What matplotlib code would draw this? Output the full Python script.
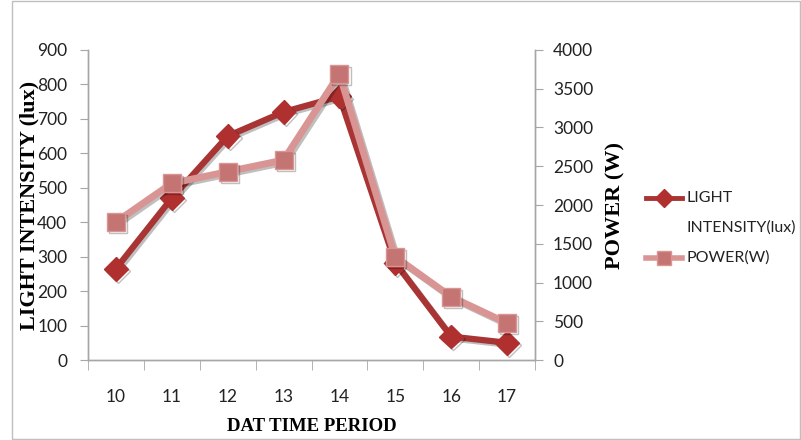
import matplotlib.pyplot as plt
import matplotlib.patheffects as pe
from matplotlib.lines import Line2D
import numpy as np

periods = ['10', '11', '12', '13', '14', '15', '16', '17']
light = [265, 470, 650, 720, 765, 282, 68, 50]
power = [1780, 2280, 2430, 2580, 3690, 1330, 815, 475]

light_col = '#A83434'
power_col = '#D99594'
power_mk = '#C47473'
axis_col = '#A6A6A6'
tick_fam = ['Lato', 'DejaVu Sans']

fig = plt.figure(figsize=(8.01, 4.40), dpi=100)
ax = fig.add_axes([88 / 801, 1 - 360 / 440, (535 - 88) / 801, 310 / 440])
ax2 = ax.twinx()

x = np.arange(len(periods))
shadow = [pe.SimpleLineShadow(offset=(1.5, -1.5), alpha=0.25), pe.Normal()]

ax.plot(x, light, color=light_col, lw=4.5, marker='D', ms=12,
        mfc='#B02F2F', mec='#B02F2F', path_effects=shadow)
ax2.plot(x, power, color=power_col, lw=5, marker='s', ms=13,
         mfc=power_mk, mec=power_col, mew=1, path_effects=shadow)

ax.set_xlim(-0.5, len(periods) - 0.5)
ax.set_ylim(0, 900)
ax.set_yticks(np.arange(0, 901, 100))
ax2.set_ylim(0, 4000)
ax2.set_yticks(np.arange(0, 4001, 500))

ax.set_xticks(x)
ax.set_xticklabels(periods)
ax.set_xticks(np.arange(-0.5, len(periods)), minor=True)
ax.tick_params(axis='x', which='major', length=0, pad=21)
ax.tick_params(axis='x', which='minor', length=7, color=axis_col, direction='out')

for lab in ax.get_xticklabels() + ax.get_yticklabels() + ax2.get_yticklabels():
    lab.set_fontfamily(tick_fam)
    lab.set_fontsize(12.5)
    lab.set_color('#222222')

ax.tick_params(axis='y', length=6, color=axis_col, direction='out', pad=9)
ax2.tick_params(axis='y', length=6, color=axis_col, direction='out', pad=7)

for a in (ax, ax2):
    a.spines['top'].set_visible(False)
    for s in ('left', 'right', 'bottom'):
        a.spines[s].set_color(axis_col)
        a.spines[s].set_linewidth(1)

ax.set_ylabel('LIGHT INTENSITY (lux)', family='Liberation Serif', weight='bold', size=16)
ax.yaxis.set_label_coords(-0.108, 0.5)
ax2.set_ylabel('POWER (W)', family='Liberation Serif', weight='bold', size=16)
ax2.yaxis.set_label_coords(1.157, 0.5)
ax.set_xlabel('DAT TIME PERIOD', labelpad=9, family='Liberation Serif', weight='bold', size=13.5)

# legend drawn by hand so the first label wraps under its text like the original
def fy(py):
    return 1 - py / 440

fig.add_artist(Line2D([646 / 801, 664 / 801, 682 / 801], [fy(198)] * 3, color=light_col, lw=3.5,
                      marker='D', ms=9, markevery=[1], mfc='#B02F2F', mec='#B02F2F'))
fig.add_artist(Line2D([646 / 801, 664 / 801, 682 / 801], [fy(258)] * 3, color=power_col, lw=4,
                      marker='s', ms=10, markevery=[1], mfc=power_mk, mec=power_col))
leg_font = dict(family=tick_fam, size=11.5, color='#222222', va='center', ha='left')
fig.text(686 / 801, fy(198), 'LIGHT', **leg_font)
fig.text(686 / 801, fy(228), 'INTENSITY(lux)', **leg_font)
fig.text(686 / 801, fy(258), 'POWER(W)', **leg_font)

# outer chart border
fig.patches.append(plt.Rectangle((12 / 801, 0.002), 1 - 13 / 801, 0.996, transform=fig.transFigure,
                                 fill=False, ec='#BFBFBF', lw=1))

fig.savefig('out.png', dpi=100)
